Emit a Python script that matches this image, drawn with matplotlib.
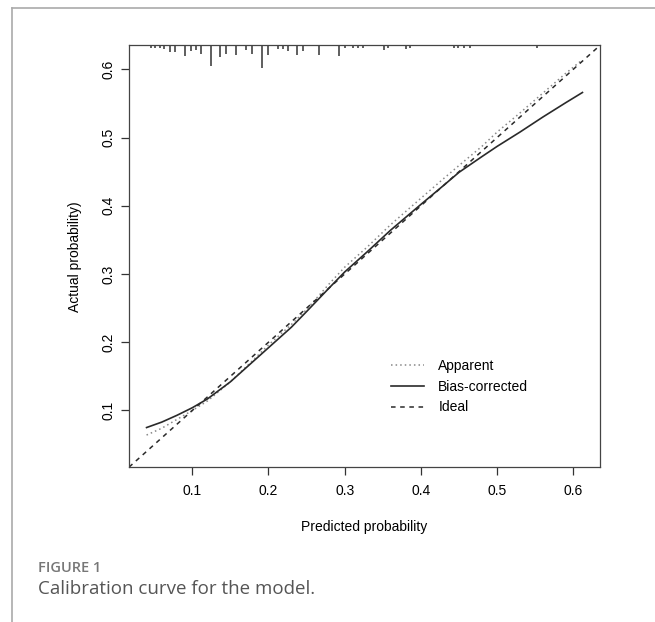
import matplotlib
matplotlib.use("Agg")
import matplotlib.pyplot as plt
import matplotlib.transforms as mtransforms
from matplotlib.lines import Line2D

# calibration curves
pred_bias = [0.04, 0.06, 0.08, 0.10, 0.12, 0.15, 0.18, 0.20, 0.23, 0.25, 0.28, 0.30,
             0.33, 0.36, 0.40, 0.43, 0.45, 0.48, 0.50, 0.53, 0.56, 0.59, 0.612]
act_bias = [0.075, 0.083, 0.093, 0.104, 0.117, 0.142, 0.172, 0.192, 0.222, 0.245, 0.28, 0.303,
            0.333, 0.364, 0.402, 0.43, 0.449, 0.472, 0.487, 0.508, 0.53, 0.551, 0.566]
pred_app = [0.04, 0.06, 0.08, 0.10, 0.12, 0.15, 0.18, 0.20, 0.23, 0.25, 0.28, 0.30,
            0.33, 0.36, 0.40, 0.43, 0.45, 0.48, 0.50, 0.53, 0.56, 0.59, 0.612]
act_app = [0.064, 0.074, 0.087, 0.1, 0.114, 0.142, 0.174, 0.196, 0.226, 0.248, 0.286, 0.31,
           0.34, 0.372, 0.411, 0.44, 0.459, 0.487, 0.508, 0.536, 0.565, 0.594, 0.614]

# rug of predicted probabilities at the top (position, relative count)
rug_x = [0.0455, 0.051, 0.057, 0.063, 0.071, 0.077, 0.091, 0.098, 0.105, 0.111,
         0.125, 0.137, 0.144, 0.158, 0.171, 0.179, 0.192, 0.199, 0.213, 0.219,
         0.225, 0.238, 0.245, 0.266, 0.292, 0.300, 0.311, 0.318, 0.324, 0.351,
         0.357, 0.381, 0.386, 0.443, 0.449, 0.456, 0.465, 0.552]
rug_n = [1, 1, 1, 1.5, 3, 3, 5, 2.5, 2, 4,
         10, 5.5, 4, 4.5, 2, 4, 10.5, 4.5, 1.5, 1.5,
         2.5, 4.5, 2.5, 4.5, 5, 1, 1, 1, 1, 2,
         1, 1.5, 1, 1, 1, 1, 1, 1]

ticks = [0.1, 0.2, 0.3, 0.4, 0.5, 0.6]
lims = (0.017, 0.635)

plt.rcParams['font.family'] = ['Liberation Sans', 'DejaVu Sans']

fig = plt.figure(figsize=(6.55, 6.22), dpi=100)
ax = fig.add_axes([0.197, 0.249, 0.719, 0.678])

ax.plot(pred_app, act_app, linestyle=(0, (1, 2)), color='#888888', lw=1.1, label='Apparent')
ax.plot(pred_bias, act_bias, color='#2a2a2a', lw=1.2, label='Bias-corrected')
ax.plot(lims, lims, linestyle=(0, (3, 3)), color='#2a2a2a', lw=1.1, label='Ideal')

# rug marks hanging from the top edge
trans = mtransforms.blended_transform_factory(ax.transData, ax.transAxes)
ax.vlines(rug_x, [1 - n * 0.005 for n in rug_n], 1, transform=trans, color='#333333', lw=1.1)

ax.set_xlim(lims)
ax.set_ylim(lims)
ax.set_xticks(ticks)
ax.set_yticks(ticks)
ax.set_xticklabels([str(t) for t in ticks])
ax.set_yticklabels([str(t) for t in ticks], rotation=90, va='center')
ax.tick_params(axis='both', length=6, width=0.9, labelsize=10, color='#333333', pad=6)
ax.tick_params(axis='y', pad=4)
for s in ax.spines.values():
    s.set_color('#444444')
    s.set_linewidth(0.9)

ax.set_xlabel('Predicted probability', fontsize=10, labelpad=16)
ax.set_ylabel('Actual probability)', fontsize=10, labelpad=14)

handles = [Line2D([], [], linestyle=(0, (1, 2)), color='#888888', lw=1.1),
           Line2D([], [], color='#2a2a2a', lw=1.2),
           Line2D([], [], linestyle=(0, (3, 3)), color='#2a2a2a', lw=1.1)]
ax.legend(handles, ['Apparent', 'Bias-corrected', 'Ideal'], frameon=False, fontsize=10,
          loc='upper left', bbox_to_anchor=(0.53, 0.287), handlelength=2.4,
          labelspacing=0.5, handletextpad=1.0)

# page frame and caption
fig.add_artist(Line2D([12 / 655, 1], [1 - 8 / 622, 1 - 8 / 622], color='#aaaaaa', lw=1.2))
fig.add_artist(Line2D([12 / 655, 12 / 655], [0, 1 - 8 / 622], color='#aaaaaa', lw=1.2))
fig.text(38 / 655, 1 - 568 / 622, 'FIGURE 1', fontsize=10.5, color='#777777',
         family=['Open Sans', 'DejaVu Sans'], weight='semibold', va='center')
fig.text(38 / 655, 1 - 589 / 622, 'Calibration curve for the model.', fontsize=13.5,
         color='#555555', family=['Open Sans', 'DejaVu Sans'], va='center')

fig.savefig('out.png', dpi=100)
